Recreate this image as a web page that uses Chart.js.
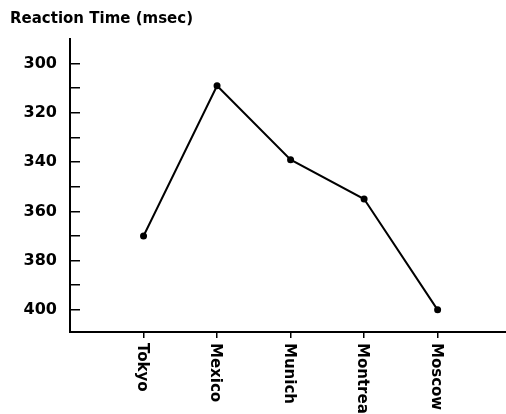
<!DOCTYPE html>
<html>
<head>
<meta charset="utf-8">
<script src="https://cdn.jsdelivr.net/npm/chart.js@4/dist/chart.umd.min.js"></script>
<style>
    html, body { margin: 0; padding: 0; background: #fff; }
    #wrap { width: 506px; height: 414px; position: relative; }
</style>
</head>
<body>
<div id="wrap"><canvas id="reactionChart"></canvas></div>
<script>
// Olympic host cities and mean reaction time (msec)
const cities = ['Tokyo', 'Mexico', 'Munich', 'Montreal', 'Moscow'];
const reactionTimes = [370, 309, 339, 355, 400];
const yLabelValues = [300, 320, 340, 360, 380, 400];

// city names run top-to-bottom under each tick
const cityLabels = {
    id: 'cityLabels',
    afterDraw(chart) {
        const { ctx, scales: { x } } = chart;
        ctx.save();
        ctx.font = 'bold 15px "DejaVu Sans"';
        ctx.fillStyle = '#000';
        ctx.textAlign = 'left';
        ctx.textBaseline = 'middle';
        cities.forEach((c, i) => {
            ctx.save();
            ctx.translate(x.getPixelForValue(i) - 2, x.top + 11);
            ctx.rotate(Math.PI / 2);
            ctx.fillText(c, 0, 0);
            ctx.restore();
        });
        ctx.restore();
    }
};

const ctx = document.getElementById('reactionChart').getContext('2d');
const reactionChart = new Chart(ctx, {
    type: 'line',
    data: {
        datasets: [{
            label: 'Reaction Time',
            data: cities.map((c, i) => ({ x: i, y: reactionTimes[i] })),
            borderColor: '#000',
            backgroundColor: '#000',
            borderWidth: 2,
            pointRadius: 2.5,
            pointBackgroundColor: '#000',
            tension: 0
        }]
    },
    options: {
        responsive: true,
        maintainAspectRatio: false,
        animation: false,
        layout: { autoPadding: false, padding: { left: 10, right: 0, top: 0, bottom: 76 } },
        plugins: {
            legend: { display: false },
            tooltip: { enabled: false },
            title: {
                display: true,
                text: 'Reaction Time (msec)',
                align: 'start',
                color: '#000',
                font: { family: 'DejaVu Sans', size: 15, weight: 'bold' },
                padding: { top: 10, bottom: 11 }
            }
        },
        scales: {
            x: {
                type: 'linear',
                min: -1,
                max: 4.93,
                border: { display: true, color: '#000', width: 2 },
                grid: {
                    drawOnChartArea: false,
                    tickLength: 6,
                    lineWidth: 1.5,
                    color: c => (c.tick && c.tick.value >= 0) ? '#000' : 'rgba(0,0,0,0)'
                },
                ticks: { display: false, stepSize: 1, includeBounds: false }
            },
            y: {
                reverse: true,
                min: 290,
                max: 409,
                afterFit: scale => { scale.width = 60; },
                border: { display: true, color: '#000', width: 2 },
                grid: {
                    drawOnChartArea: false,
                    tickLength: -10,
                    lineWidth: 1.5,
                    color: c => (c.tick && c.tick.value >= 300 && c.tick.value <= 400) ? '#000' : 'rgba(0,0,0,0)'
                },
                ticks: {
                    stepSize: 10,
                    padding: 23,
                    color: '#000',
                    font: { family: 'DejaVu Sans', size: 16, weight: 'bold' },
                    callback: v => yLabelValues.includes(v) ? String(v) : ''
                }
            }
        }
    },
    plugins: [cityLabels]
});
</script>
</body>
</html>
